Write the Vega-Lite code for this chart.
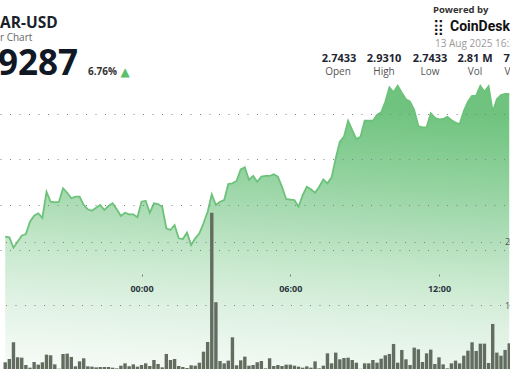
{
  "$schema": "https://vega.github.io/schema/vega-lite/v6.json",
  "width": 510,
  "height": 369,
  "autosize": {"type": "none"},
  "padding": 0,
  "background": "white",
  "config": {"view": {"stroke": null}, "font": "Open Sans"},
  "data": {"values": [
    {"t":"2025-08-12T18:30:00","price":2.7652,"vol":10.5},
    {"t":"2025-08-12T18:40:00","price":2.7645,"vol":15.7},
    {"t":"2025-08-12T18:50:00","price":2.7531,"vol":41.9},
    {"t":"2025-08-12T19:00:00","price":2.7597,"vol":18.3},
    {"t":"2025-08-12T19:10:00","price":2.7663,"vol":17.8},
    {"t":"2025-08-12T19:20:00","price":2.7681,"vol":6.3},
    {"t":"2025-08-12T19:30:00","price":2.7816,"vol":2.1},
    {"t":"2025-08-12T19:40:00","price":2.7882,"vol":11.0},
    {"t":"2025-08-12T19:50:00","price":2.7909,"vol":6.8},
    {"t":"2025-08-12T20:00:00","price":2.7860,"vol":10.5},
    {"t":"2025-08-12T20:10:00","price":2.8146,"vol":22.5},
    {"t":"2025-08-12T20:20:00","price":2.8036,"vol":21.5},
    {"t":"2025-08-12T20:30:00","price":2.8030,"vol":7.3},
    {"t":"2025-08-12T20:40:00","price":2.8033,"vol":0.5},
    {"t":"2025-08-12T20:50:00","price":2.8184,"vol":23.6},
    {"t":"2025-08-12T21:00:00","price":2.8135,"vol":24.1},
    {"t":"2025-08-12T21:10:00","price":2.8074,"vol":18.9},
    {"t":"2025-08-12T21:20:00","price":2.8091,"vol":4.2},
    {"t":"2025-08-12T21:30:00","price":2.8091,"vol":12.0},
    {"t":"2025-08-12T21:40:00","price":2.8000,"vol":16.8},
    {"t":"2025-08-12T21:50:00","price":2.7953,"vol":4.2},
    {"t":"2025-08-12T22:00:00","price":2.7937,"vol":3.7},
    {"t":"2025-08-12T22:10:00","price":2.7970,"vol":2.6},
    {"t":"2025-08-12T22:20:00","price":2.8000,"vol":3.1},
    {"t":"2025-08-12T22:30:00","price":2.7945,"vol":3.1},
    {"t":"2025-08-12T22:40:00","price":2.7989,"vol":3.1},
    {"t":"2025-08-12T22:50:00","price":2.8019,"vol":2.1},
    {"t":"2025-08-12T23:00:00","price":2.7953,"vol":1.0},
    {"t":"2025-08-12T23:10:00","price":2.7879,"vol":5.2},
    {"t":"2025-08-12T23:20:00","price":2.7915,"vol":8.9},
    {"t":"2025-08-12T23:30:00","price":2.7898,"vol":4.2},
    {"t":"2025-08-12T23:40:00","price":2.7898,"vol":7.3},
    {"t":"2025-08-12T23:50:00","price":2.7865,"vol":3.7},
    {"t":"2025-08-13T00:00:00","price":2.8036,"vol":6.3},
    {"t":"2025-08-13T00:10:00","price":2.8047,"vol":8.9},
    {"t":"2025-08-13T00:20:00","price":2.7915,"vol":4.7},
    {"t":"2025-08-13T00:30:00","price":2.8019,"vol":14.1},
    {"t":"2025-08-13T00:40:00","price":2.8011,"vol":7.9},
    {"t":"2025-08-13T00:50:00","price":2.7981,"vol":2.6},
    {"t":"2025-08-13T01:00:00","price":2.7744,"vol":23.6},
    {"t":"2025-08-13T01:10:00","price":2.7725,"vol":14.1},
    {"t":"2025-08-13T01:20:00","price":2.7780,"vol":15.7},
    {"t":"2025-08-13T01:30:00","price":2.7634,"vol":4.7},
    {"t":"2025-08-13T01:40:00","price":2.7626,"vol":3.1},
    {"t":"2025-08-13T01:50:00","price":2.7696,"vol":1.6},
    {"t":"2025-08-13T02:00:00","price":2.7560,"vol":5.8},
    {"t":"2025-08-13T02:10:00","price":2.7634,"vol":5.2},
    {"t":"2025-08-13T02:20:00","price":2.7689,"vol":9.9},
    {"t":"2025-08-13T02:30:00","price":2.7799,"vol":27.2},
    {"t":"2025-08-13T02:40:00","price":2.7926,"vol":42.4},
    {"t":"2025-08-13T02:50:00","price":2.8118,"vol":245.1},
    {"t":"2025-08-13T03:00:00","price":2.8000,"vol":104.8},
    {"t":"2025-08-13T03:10:00","price":2.8036,"vol":12.6},
    {"t":"2025-08-13T03:20:00","price":2.8055,"vol":8.9},
    {"t":"2025-08-13T03:30:00","price":2.8231,"vol":13.1},
    {"t":"2025-08-13T03:40:00","price":2.8238,"vol":49.7},
    {"t":"2025-08-13T03:50:00","price":2.8264,"vol":5.8},
    {"t":"2025-08-13T04:00:00","price":2.8392,"vol":13.6},
    {"t":"2025-08-13T04:10:00","price":2.8414,"vol":19.4},
    {"t":"2025-08-13T04:20:00","price":2.8275,"vol":5.2},
    {"t":"2025-08-13T04:30:00","price":2.8319,"vol":6.3},
    {"t":"2025-08-13T04:40:00","price":2.8256,"vol":10.5},
    {"t":"2025-08-13T04:50:00","price":2.8311,"vol":12.6},
    {"t":"2025-08-13T05:00:00","price":2.8319,"vol":1.0},
    {"t":"2025-08-13T05:10:00","price":2.8319,"vol":16.8},
    {"t":"2025-08-13T05:20:00","price":2.8337,"vol":4.7},
    {"t":"2025-08-13T05:30:00","price":2.8311,"vol":6.3},
    {"t":"2025-08-13T05:40:00","price":2.8201,"vol":4.7},
    {"t":"2025-08-13T05:50:00","price":2.8066,"vol":6.8},
    {"t":"2025-08-13T06:00:00","price":2.8060,"vol":6.8},
    {"t":"2025-08-13T06:10:00","price":2.8055,"vol":5.2},
    {"t":"2025-08-13T06:20:00","price":2.7981,"vol":3.7},
    {"t":"2025-08-13T06:30:00","price":2.8110,"vol":2.1},
    {"t":"2025-08-13T06:40:00","price":2.8201,"vol":4.2},
    {"t":"2025-08-13T06:50:00","price":2.8173,"vol":2.1},
    {"t":"2025-08-13T07:00:00","price":2.8135,"vol":12.0},
    {"t":"2025-08-13T07:10:00","price":2.8201,"vol":1.0},
    {"t":"2025-08-13T07:20:00","price":2.8282,"vol":5.2},
    {"t":"2025-08-13T07:30:00","price":2.8238,"vol":24.6},
    {"t":"2025-08-13T07:40:00","price":2.8304,"vol":8.9},
    {"t":"2025-08-13T07:50:00","price":2.8513,"vol":25.7},
    {"t":"2025-08-13T08:00:00","price":2.8696,"vol":15.2},
    {"t":"2025-08-13T08:10:00","price":2.8751,"vol":17.3},
    {"t":"2025-08-13T08:20:00","price":2.8926,"vol":17.8},
    {"t":"2025-08-13T08:30:00","price":2.8824,"vol":14.1},
    {"t":"2025-08-13T08:40:00","price":2.8725,"vol":9.9},
    {"t":"2025-08-13T08:50:00","price":2.8751,"vol":0.3},
    {"t":"2025-08-13T09:00:00","price":2.8926,"vol":8.9},
    {"t":"2025-08-13T09:10:00","price":2.8926,"vol":8.9},
    {"t":"2025-08-13T09:20:00","price":2.8926,"vol":14.1},
    {"t":"2025-08-13T09:30:00","price":2.8989,"vol":9.9},
    {"t":"2025-08-13T09:40:00","price":2.9019,"vol":16.2},
    {"t":"2025-08-13T09:50:00","price":2.9135,"vol":21.5},
    {"t":"2025-08-13T10:00:00","price":2.9293,"vol":23.6},
    {"t":"2025-08-13T10:10:00","price":2.9238,"vol":39.3},
    {"t":"2025-08-13T10:20:00","price":2.9310,"vol":9.9},
    {"t":"2025-08-13T10:30:00","price":2.9234,"vol":29.9},
    {"t":"2025-08-13T10:40:00","price":2.9162,"vol":15.2},
    {"t":"2025-08-13T10:50:00","price":2.9135,"vol":6.3},
    {"t":"2025-08-13T11:00:00","price":2.9044,"vol":33.5},
    {"t":"2025-08-13T11:10:00","price":2.8868,"vol":30.9},
    {"t":"2025-08-13T11:20:00","price":2.8854,"vol":11.0},
    {"t":"2025-08-13T11:30:00","price":2.8854,"vol":24.6},
    {"t":"2025-08-13T11:40:00","price":2.9008,"vol":30.4},
    {"t":"2025-08-13T11:50:00","price":2.8959,"vol":7.9},
    {"t":"2025-08-13T12:00:00","price":2.8942,"vol":18.3},
    {"t":"2025-08-13T12:10:00","price":2.8945,"vol":7.3},
    {"t":"2025-08-13T12:20:00","price":2.8970,"vol":1.0},
    {"t":"2025-08-13T12:30:00","price":2.8934,"vol":8.9},
    {"t":"2025-08-13T12:40:00","price":2.8904,"vol":13.1},
    {"t":"2025-08-13T12:50:00","price":2.8890,"vol":8.9},
    {"t":"2025-08-13T13:00:00","price":2.9033,"vol":20.9},
    {"t":"2025-08-13T13:10:00","price":2.9135,"vol":28.8},
    {"t":"2025-08-13T13:20:00","price":2.9198,"vol":41.9},
    {"t":"2025-08-13T13:30:00","price":2.9201,"vol":28.3},
    {"t":"2025-08-13T13:40:00","price":2.9310,"vol":39.8},
    {"t":"2025-08-13T13:50:00","price":2.9245,"vol":39.8},
    {"t":"2025-08-13T14:00:00","price":2.9305,"vol":9.4},
    {"t":"2025-08-13T14:10:00","price":2.9025,"vol":70.7},
    {"t":"2025-08-13T14:20:00","price":2.9162,"vol":25.7},
    {"t":"2025-08-13T14:30:00","price":2.9209,"vol":20.9},
    {"t":"2025-08-13T14:40:00","price":2.9220,"vol":29.9},
    {"t":"2025-08-13T14:50:00","price":2.9220,"vol":40.3}
  ]},
  "layer": [
    {
      "encoding": {
        "x": {
          "field": "t", "type": "temporal",
          "scale": {"domain": [
            {"year": 2025, "month": 8, "date": 12, "hours": 18, "minutes": 29, "seconds": 30},
            {"year": 2025, "month": 8, "date": 13, "hours": 14, "minutes": 39, "seconds": 45}
          ]},
          "axis": {
            "orient": "bottom", "offset": -95, "format": "%H:%M", "title": null,
            "values": [
              {"year": 2025, "month": 8, "date": 13, "hours": 0},
              {"year": 2025, "month": 8, "date": 13, "hours": 6},
              {"year": 2025, "month": 8, "date": 13, "hours": 12}
            ],
            "domain": false, "grid": false, "tickSize": 2, "tickColor": "#777777",
            "labelPadding": 8, "labelFont": "Open Sans", "labelFontSize": 9,
            "labelFontWeight": "bold", "labelColor": "#2c3441", "zindex": 2
          }
        },
        "y": {
          "field": "price", "type": "quantitative",
          "scale": {"domain": [2.61978, 3.02527], "nice": false, "zero": false},
          "axis": {
            "values": [2.75, 2.8, 2.85, 2.9], "labels": false, "ticks": false,
            "domain": false, "title": null, "grid": true, "gridDash": [1, 8.5],
            "gridColor": "#808080", "gridOpacity": 1, "zindex": 2
          }
        }
      },
      "layer": [
        {
          "mark": {
            "type": "area",
            "opacity": 1,
            "color": {
              "gradient": "linear", "x1": 0.12, "y1": 0, "x2": 0, "y2": 1,
              "stops": [
                {"offset": 0, "color": "#6fc37e"},
                {"offset": 0.1, "color": "#7dc98b"},
                {"offset": 0.26, "color": "#94d3a0"},
                {"offset": 0.42, "color": "#aeddb7"},
                {"offset": 0.58, "color": "#c8e9ce"},
                {"offset": 0.74, "color": "#def1e2"},
                {"offset": 0.9, "color": "#eef8f0"},
                {"offset": 1, "color": "#f7fbf7"}
              ]
            }
          },
          "encoding": {"y2": {"datum": 2.61978}}
        },
        {"mark": {"type": "line", "color": "#6cc27b", "strokeWidth": 1.8}}
      ]
    },
    {
      "mark": {"type": "bar", "width": 3.4, "color": "#626d60", "opacity": 1},
      "encoding": {
        "x": {"field": "t", "type": "temporal"},
        "y": {
          "field": "vol", "type": "quantitative",
          "scale": {"domain": [0, 579], "nice": false},
          "axis": {
            "orient": "right", "offset": -5.5, "values": [100, 200],
            "labelExpr": "datum.value + 'K'", "tickSize": 0, "domain": false,
            "labelPadding": 0, "labelAlign": "left", "labelFontSize": 9,
            "labelColor": "#555555", "title": null, "grid": true,
            "gridDash": [1, 8.5], "gridColor": "#808080", "gridOpacity": 1, "zindex": 2
          }
        }
      }
    },
    {"data": {"values": [{}]}, "mark": {"type": "text", "text": "AR-USD", "x": 0, "y": 28, "align": "left", "baseline": "alphabetic", "fontSize": 15.5, "fontWeight": "bold", "color": "#1a1f2b"}},
    {"data": {"values": [{}]}, "mark": {"type": "text", "text": "r Chart", "x": 0, "y": 41, "align": "left", "baseline": "alphabetic", "fontSize": 10, "color": "#666666"}},
    {"data": {"values": [{}]}, "mark": {"type": "text", "text": "2.9287", "x": 78, "y": 75, "align": "right", "baseline": "alphabetic", "fontSize": 35, "fontWeight": "bold", "color": "#101826"}},
    {"data": {"values": [{}]}, "mark": {"type": "text", "text": "6.76%", "x": 88, "y": 75, "align": "left", "baseline": "alphabetic", "fontSize": 10, "fontWeight": "bold", "color": "#333333"}},
    {"data": {"values": [{}]}, "mark": {"type": "text", "text": "▲", "x": 125, "y": 76, "align": "center", "baseline": "alphabetic", "fontSize": 12, "font": "DejaVu Sans", "color": "#5cbf6a"}},
    {"data": {"values": [{}]}, "mark": {"type": "text", "text": "Powered by", "x": 433, "y": 12.5, "align": "left", "baseline": "alphabetic", "fontSize": 9.5, "fontWeight": "bold", "color": "#333333"}},
    {"data": {"values": [{}]}, "mark": {"type": "text", "text": "⣿", "x": 433, "y": 32, "align": "left", "baseline": "alphabetic", "fontSize": 15, "font": "DejaVu Sans", "color": "#111111"}},
    {"data": {"values": [{}]}, "mark": {"type": "text", "text": "CoinDesk", "x": 450, "y": 31, "align": "left", "baseline": "alphabetic", "fontSize": 14, "font": "Roboto", "fontWeight": "bold", "color": "#111111"}},
    {"data": {"values": [{}]}, "mark": {"type": "text", "text": "13 Aug 2025 16:36", "x": 435, "y": 47, "align": "left", "baseline": "alphabetic", "fontSize": 10, "color": "#9a9a9a"}},
    {"data": {"values": [{}]}, "mark": {"type": "text", "text": "2.7433", "x": 339, "y": 62, "align": "center", "baseline": "alphabetic", "fontSize": 11, "fontWeight": "bold", "color": "#1e2430"}},
    {"data": {"values": [{}]}, "mark": {"type": "text", "text": "2.9310", "x": 384, "y": 62, "align": "center", "baseline": "alphabetic", "fontSize": 11, "fontWeight": "bold", "color": "#1e2430"}},
    {"data": {"values": [{}]}, "mark": {"type": "text", "text": "2.7433", "x": 430, "y": 62, "align": "center", "baseline": "alphabetic", "fontSize": 11, "fontWeight": "bold", "color": "#1e2430"}},
    {"data": {"values": [{}]}, "mark": {"type": "text", "text": "2.81 M", "x": 475, "y": 62, "align": "center", "baseline": "alphabetic", "fontSize": 11, "fontWeight": "bold", "color": "#1e2430"}},
    {"data": {"values": [{}]}, "mark": {"type": "text", "text": "7.95 M", "x": 521, "y": 62, "align": "center", "baseline": "alphabetic", "fontSize": 11, "fontWeight": "bold", "color": "#1e2430"}},
    {"data": {"values": [{}]}, "mark": {"type": "text", "text": "Open", "x": 338, "y": 75, "align": "center", "baseline": "alphabetic", "fontSize": 10, "color": "#555555"}},
    {"data": {"values": [{}]}, "mark": {"type": "text", "text": "High", "x": 384, "y": 75, "align": "center", "baseline": "alphabetic", "fontSize": 10, "color": "#555555"}},
    {"data": {"values": [{}]}, "mark": {"type": "text", "text": "Low", "x": 430, "y": 75, "align": "center", "baseline": "alphabetic", "fontSize": 10, "color": "#555555"}},
    {"data": {"values": [{}]}, "mark": {"type": "text", "text": "Vol", "x": 475, "y": 75, "align": "center", "baseline": "alphabetic", "fontSize": 10, "color": "#555555"}},
    {"data": {"values": [{}]}, "mark": {"type": "text", "text": "Vol USD", "x": 523, "y": 75, "align": "center", "baseline": "alphabetic", "fontSize": 10, "color": "#555555"}}
  ],
  "resolve": {"scale": {"y": "independent"}, "axis": {"y": "independent"}}
}
